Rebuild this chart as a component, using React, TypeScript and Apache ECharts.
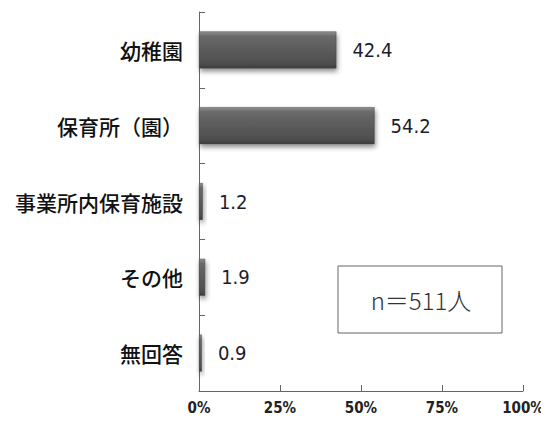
import React, { useEffect, useRef } from "react";
import * as echarts from "echarts";

const categories = ["幼稚園", "保育所（園）", "事業所内保育施設", "その他", "無回答"];
const values = [42.4, 54.2, 1.2, 1.9, 0.9];
const xTicks = [0, 25, 50, 75, 100];
const sampleNote = "n＝511人";

const narrow = "'Liberation Sans Narrow', 'DejaVu Sans Condensed', 'Noto Sans CJK JP', sans-serif";

export default function App() {
  const ref = useRef<HTMLDivElement>(null);

  useEffect(() => {
    if (!ref.current) return;
    const chart = echarts.init(ref.current, null, { renderer: "svg" });

    const barFill = new echarts.graphic.LinearGradient(0, 0, 0, 1, [
      { offset: 0, color: "#909090" },
      { offset: 0.12, color: "#6a6a6a" },
      { offset: 0.5, color: "#5b5b5b" },
      { offset: 0.88, color: "#4e4e4e" },
      { offset: 1, color: "#3a3a3a" },
    ]);

    chart.setOption({
      animation: false,
      backgroundColor: "#ffffff",
      grid: { left: 199, right: 26, top: 12, bottom: 30, containLabel: false },
      xAxis: {
        type: "value",
        min: xTicks[0],
        max: xTicks[xTicks.length - 1],
        interval: 25,
        axisLine: { show: true, lineStyle: { color: "#666", width: 1 } },
        axisTick: { show: true, inside: true, length: 6, lineStyle: { color: "#666" } },
        splitLine: { show: false },
        axisLabel: {
          formatter: (v: number) => `${v}%`,
          color: "#222",
          fontSize: 15,
          fontWeight: "bold",
          fontFamily: narrow,
          margin: 9,
        },
      },
      yAxis: {
        type: "category",
        data: categories,
        inverse: true,
        axisLine: { show: true, lineStyle: { color: "#666", width: 1 } },
        axisTick: { show: true, inside: true, length: 6, lineStyle: { color: "#666" } },
        axisLabel: {
          color: "#111",
          fontSize: 21,
          fontWeight: 500,
          fontFamily: "Noto Sans CJK JP",
          margin: 16,
        },
      },
      series: [
        {
          type: "bar",
          data: values,
          barWidth: 37,
          itemStyle: {
            color: barFill,
            borderColor: "#4a4a4a",
            borderWidth: 0.5,
            shadowColor: "rgba(0,0,0,0.45)",
            shadowBlur: 5,
            shadowOffsetX: 1,
            shadowOffsetY: 3,
          },
          label: {
            show: true,
            position: "right",
            distance: 16,
            formatter: (p: any) => p.value.toFixed(1),
            color: "#1c1c2c",
            fontSize: 20,
            fontFamily: narrow,
          },
        },
      ],
      graphic: [
        {
          type: "rect",
          shape: { x: 338, y: 266, width: 164, height: 67 },
          style: { fill: "#fff", stroke: "#666", lineWidth: 1 },
        },
        {
          type: "text",
          x: 421,
          y: 299,
          style: {
            text: sampleNote,
            fill: "#333",
            fontSize: 24,
            fontFamily: "'Noto Sans CJK JP'",
            fontWeight: 300,
            align: "center",
            verticalAlign: "middle",
          },
        },
      ],
    });

    return () => chart.dispose();
  }, []);

  return <div ref={ref} style={{ width: 549, height: 421, margin: -8 }} />;
}
